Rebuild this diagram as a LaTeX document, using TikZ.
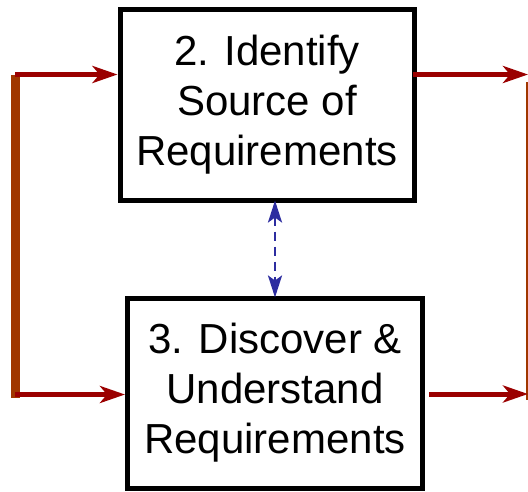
\documentclass[tikz,border=0pt]{standalone}
\usepackage{fontspec}
\setmainfont{Liberation Sans}
\usetikzlibrary{arrows.meta}
\definecolor{flowred}{RGB}{155,0,0}
\definecolor{busbrown}{RGB}{160,55,0}
\definecolor{linkblue}{RGB}{45,45,160}
\tikzset{
  procbox/.style={draw=black, line width=5pt, fill=white, align=center,
    inner sep=0pt, font=\fontsize{42}{50}\selectfont},
  flowarrow/.style={draw=flowred, line width=5pt,
    -{Stealth[length=25pt, width=17pt, inset=7pt]}},
  linkarrow/.style={draw=linkblue, line width=2.5pt, dash pattern=on 9pt off 6pt,
    {Stealth[length=22pt, width=14pt, inset=5pt]}-{Stealth[length=22pt, width=14pt, inset=5pt]}},
  bus/.style={draw=busbrown, line width=9pt},
  thinbus/.style={draw=busbrown, line width=1.2pt}
}
\begin{document}
\begin{tikzpicture}[x=1pt, y=-1pt]
  \useasboundingbox (0,0) rectangle (528,491);

  % process boxes
  \node[procbox, minimum width=294pt, minimum height=191pt] (ident) at (267,104.5)
    {2. Identify\\Source of\\Requirements};
  \node[procbox, minimum width=295pt, minimum height=190pt] (discover) at (275,393)
    {3. Discover \&\\Understand\\Requirements};

  % input bus on the left
  \coordinate (busTop) at (15,74.5);
  \coordinate (busBot) at (15,394.5);
  \draw[bus] (15,75) -- (15,398);
  \draw[flowarrow] (busTop) -- (ident.west |- busTop);
  \draw[flowarrow] (busBot) -- (discover.west |- busBot);

  % output bus on the right
  \coordinate (outTop) at (528,74.5);
  \coordinate (outBot) at (528,394);
  \draw[thinbus] (527,82) -- (527,400);
  \draw[flowarrow] ([xshift=-4pt]ident.east |- outTop) -- (outTop);
  \draw[flowarrow] ([xshift=4pt]discover.east |- outBot) -- (outBot);

  % two-way link between the boxes
  \draw[linkarrow] ([yshift=2pt]discover.north |- ident.south) -- ([yshift=-2pt]discover.north);
\end{tikzpicture}
\end{document}
